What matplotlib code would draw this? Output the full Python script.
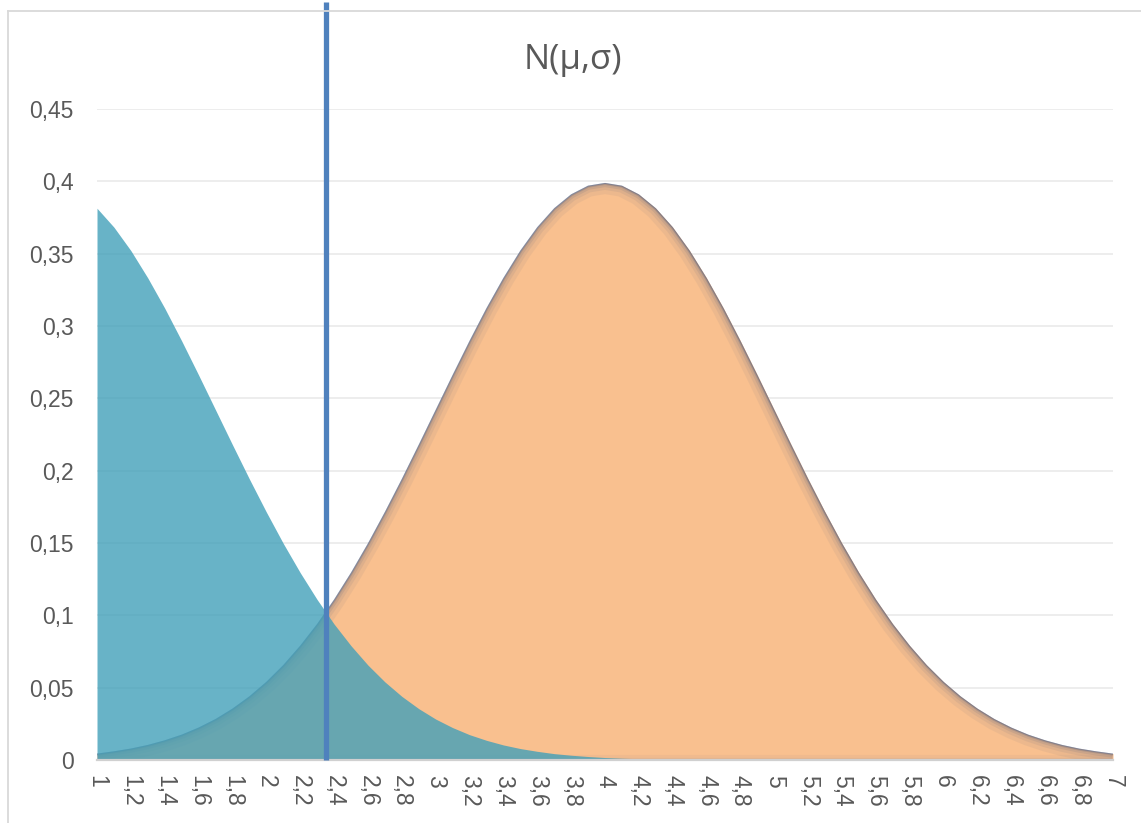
import matplotlib
matplotlib.use("Agg")
import matplotlib.pyplot as plt
from matplotlib.lines import Line2D

# x categories: 1.0 .. 7.0 in steps of 0.1
x_values = [round(1 + 0.1 * i, 1) for i in range(61)]

# density of the second class, N(4, 1)
orange_density = [
    0.0044, 0.0060, 0.0079, 0.0104, 0.0136, 0.0175, 0.0224, 0.0283, 0.0355, 0.0440,
    0.0540, 0.0656, 0.0790, 0.0940, 0.1109, 0.1295, 0.1497, 0.1714, 0.1942, 0.2179,
    0.2420, 0.2661, 0.2897, 0.3123, 0.3332, 0.3521, 0.3683, 0.3814, 0.3910, 0.3970,
    0.3989,
    0.3970, 0.3910, 0.3814, 0.3683, 0.3521, 0.3332, 0.3123, 0.2897, 0.2661, 0.2420,
    0.2179, 0.1942, 0.1714, 0.1497, 0.1295, 0.1109, 0.0940, 0.0790, 0.0656, 0.0540,
    0.0440, 0.0355, 0.0283, 0.0224, 0.0175, 0.0136, 0.0104, 0.0079, 0.0060, 0.0044,
]

# density of the first class, N(0.7, 1)
blue_density = [
    0.3814, 0.3683, 0.3521, 0.3332, 0.3123, 0.2897, 0.2661, 0.2420, 0.2179, 0.1942,
    0.1714, 0.1497, 0.1295, 0.1109, 0.0940, 0.0790, 0.0656, 0.0540, 0.0440, 0.0355,
    0.0283, 0.0224, 0.0175, 0.0136, 0.0104, 0.0079, 0.0060, 0.0044, 0.0033, 0.0024,
    0.0017, 0.0012, 0.0009, 0.0006, 0.0004, 0.0003, 0.0002, 0.0001, 0.0001, 0.0001,
    0.0000, 0.0000, 0.0000, 0.0000, 0.0000, 0.0000, 0.0000, 0.0000, 0.0000, 0.0000,
    0.0000, 0.0000, 0.0000, 0.0000, 0.0000, 0.0000, 0.0000, 0.0000, 0.0000, 0.0000,
    0.0000,
]

# decision threshold and its marker height
threshold_x = 2.35
threshold_top = 0.524

y_ticks = [0, 0.05, 0.1, 0.15, 0.2, 0.25, 0.3, 0.35, 0.4, 0.45]
y_tick_labels = ["0", "0,05", "0,1", "0,15", "0,2", "0,25", "0,3", "0,35", "0,4", "0,45"]
x_ticks = x_values[::2]
x_tick_labels = ["1", "1,2", "1,4", "1,6", "1,8", "2", "2,2", "2,4", "2,6", "2,8",
                 "3", "3,2", "3,4", "3,6", "3,8", "4", "4,2", "4,4", "4,6", "4,8",
                 "5", "5,2", "5,4", "5,6", "5,8", "6", "6,2", "6,4", "6,6", "6,8", "7"]

title_text = "N(\u03bc,\u03c3)"

plt.rcParams["font.family"] = ["Liberation Sans", "DejaVu Sans"]
text_color = "#595959"

fig = plt.figure(figsize=(11.41, 8.23), dpi=100)
ax = fig.add_axes([97 / 1141, 1 - 760 / 823, (1113 - 97) / 1141, (760 - 109) / 823])

# outer chart frame (left and top edges)
fig.add_artist(Line2D([8 / 1141, 8 / 1141], [0, 1 - 11 / 823], transform=fig.transFigure,
                      color="#D9D9D9", lw=1.3))
fig.add_artist(Line2D([8 / 1141, 1], [1 - 11 / 823, 1 - 11 / 823], transform=fig.transFigure,
                      color="#D9D9D9", lw=1.3))

# orange area with a soft dark inner edge
orange_poly = ax.fill_between(x_values, orange_density, 0, color="#F9C08F", lw=0, zorder=2)
clip_path = orange_poly.get_paths()[0]
for width, alpha in [(16, 0.07), (10, 0.09), (6, 0.13), (3, 0.22), (1.5, 0.45)]:
    edge, = ax.plot(x_values, orange_density, color="#4E5C7E", lw=width, alpha=alpha,
                    solid_capstyle="butt", zorder=3)
    edge.set_clip_path(clip_path, transform=ax.transData)
for width, alpha in [(8, 0.05), (3, 0.08)]:
    base, = ax.plot([1, 7], [0, 0], color="#4E5C7E", lw=width, alpha=alpha, zorder=3)
    base.set_clip_path(clip_path, transform=ax.transData)

# blue area drawn over it, slightly translucent
ax.fill_between(x_values, blue_density, 0, color="#42A0B9", alpha=0.8, lw=0, zorder=4)

# threshold marker
ax.plot([threshold_x, threshold_x], [0, threshold_top], color="#4F81BD", lw=3.8,
        solid_capstyle="butt", clip_on=False, zorder=6)

ax.set_xlim(1, 7)
ax.set_ylim(0, 0.45)

for yv in y_ticks[1:]:
    ax.axhline(yv, color="#EAEAEA", lw=1.2, zorder=1)

ax.set_yticks(y_ticks)
ax.set_yticklabels(y_tick_labels, fontsize=16.5, color=text_color)
ax.set_xticks(x_ticks)
ax.set_xticklabels(x_tick_labels, fontsize=16.5, color=text_color, rotation=-90,
                   ha="center", va="top")
ax.tick_params(axis="y", length=0, pad=17)
ax.tick_params(axis="x", length=0, pad=11)

for side in ["top", "right", "left"]:
    ax.spines[side].set_visible(False)
ax.spines["bottom"].set_color("#D0D0D0")
ax.spines["bottom"].set_linewidth(1.6)
ax.spines["bottom"].set_zorder(5)

fig.text(573 / 1141, 1 - 60 / 823, title_text, fontsize=25, color=text_color,
         ha="center", va="center", family=["Open Sans", "DejaVu Sans"])

fig.savefig("out.png", dpi=100, facecolor="white")
